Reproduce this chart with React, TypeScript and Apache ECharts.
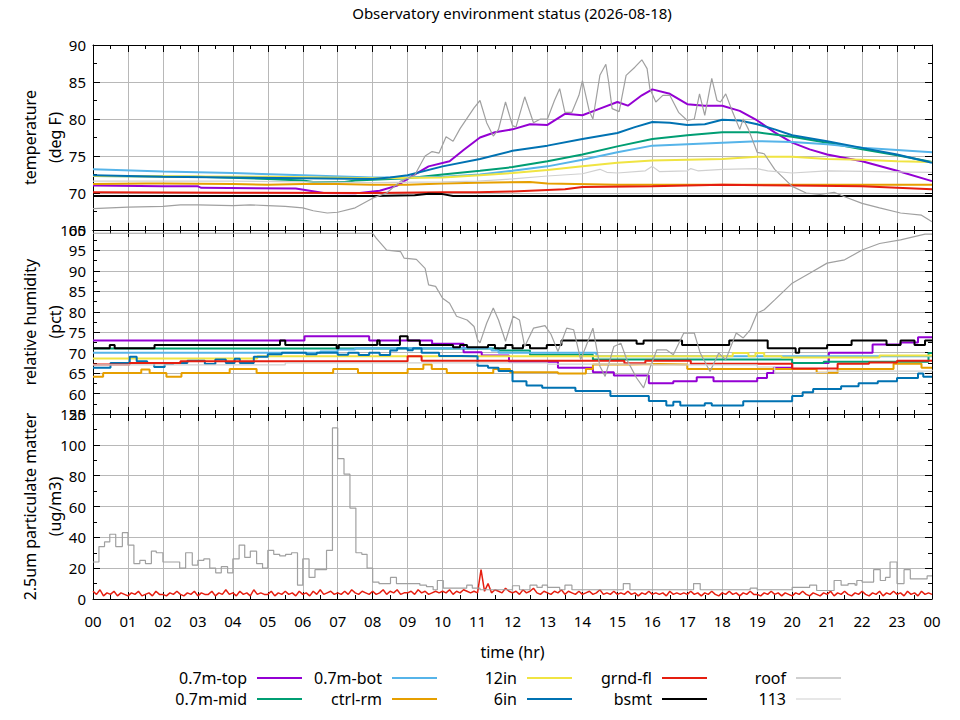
import React, { useEffect, useRef } from 'react';
import * as echarts from 'echarts';

type Pt = [number, number];

const FONT = 'Noto Sans';

// x axis tick labels (hours 0..24)
const hourLabels = [
  '00', '01', '02', '03', '04', '05', '06', '07', '08', '09', '10', '11', '12',
  '13', '14', '15', '16', '17', '18', '19', '20', '21', '22', '23', '00'
];

// sensor names and colours, in plotting order
const sensorNames = ['0.7m-top', '0.7m-mid', '0.7m-bot', 'ctrl-rm', '12in', '6in', 'grnd-fl', 'bsmt', 'roof', '113'];
const sensorColors = ['#9400d3', '#009e73', '#56b4e9', '#e69f00', '#f0e442', '#0072b2', '#e51e10', '#000000', '#a0a0a0', '#d0d0d0'];

// ---- temperature (deg F), [hour, value] ----
const tempTop: Pt[] = [
  [0, 71.0], [2, 70.9], [3, 70.9], [3.1, 70.7], [5.8, 70.6], [6.2, 70.3], [6.6, 70.0], [7.5, 69.95],
  [8.2, 70.3], [8.7, 71.0], [9.1, 72.2], [9.6, 73.6], [10.2, 74.3], [10.6, 75.8], [11.07, 77.5],
  [11.5, 78.2], [12, 78.6], [12.5, 79.3], [13, 79.2], [13.5, 80.7], [14, 80.5], [14.5, 81.4], [15, 82.3],
  [15.3, 81.8], [15.7, 83.2], [16, 84.0], [16.5, 83.4], [17, 82.0], [17.5, 81.8], [18, 81.8], [18.5, 81.1],
  [19, 79.8], [19.5, 78.2], [20, 76.8], [20.5, 75.9], [21, 75.2], [22, 74.3], [23, 73.0], [24, 71.6]
];
const tempMid: Pt[] = [
  [0, 72.3], [3, 72.2], [5, 71.9], [6, 71.7], [6.3, 71.5], [7.2, 71.5], [7.5, 71.7], [9, 72.0], [10, 72.5],
  [11.07, 73.0], [12, 73.5], [13, 74.3], [14, 75.2], [15, 76.3], [16, 77.3], [17, 77.8], [18, 78.2],
  [19, 78.2], [20, 77.6], [21, 76.8], [22, 75.9], [23, 75.1], [24, 74.2]
];
const tempBot: Pt[] = [
  [0, 73.2], [2, 72.9], [4, 72.7], [6, 72.4], [8, 72.1], [9, 72.1], [10, 72.2], [11.07, 72.5], [12, 73.0],
  [13, 73.6], [14, 74.5], [15, 75.5], [16, 76.4], [17, 76.6], [18, 76.8], [19, 77.0], [20, 76.9],
  [21, 76.6], [22, 76.1], [23, 75.8], [24, 75.5]
];
const tempCtrl: Pt[] = [
  [0, 71.2], [1.5, 71.3], [2, 71.3], [4, 71.2], [5, 71.1], [6, 71.2], [7, 71.2], [8, 71.1], [9, 71.1],
  [10, 71.3], [11, 71.4], [12.5, 71.5], [13, 71.3], [15, 71.1], [24, 71.1]
];
const temp12in: Pt[] = [
  [0, 72.3], [5, 72.2], [8, 72.0], [10, 72.1], [11.07, 72.4], [12, 72.7], [13, 73.1], [14, 73.6],
  [15, 74.1], [16, 74.4], [17, 74.5], [18, 74.6], [19, 74.9], [20, 74.9], [21, 74.6], [22, 74.5],
  [23, 74.3], [24, 74.2]
];
const temp6in: Pt[] = [
  [0, 72.4], [2, 72.2], [4, 72.1], [6, 72.0], [8, 71.9], [8.5, 72.1], [9, 72.4], [10, 73.6], [11.07, 74.6],
  [12, 75.7], [13, 76.4], [14, 77.3], [15, 78.1], [15.5, 78.9], [16, 79.6], [16.5, 79.5], [17, 79.2],
  [17.5, 79.3], [18, 79.9], [18.5, 79.8], [19, 79.3], [19.5, 78.6], [20, 77.8], [21, 77.0], [22, 76.1],
  [23, 75.2], [24, 74.1]
];
const tempGrnd: Pt[] = [
  [0, 70.1], [4, 70.05], [8, 70.0], [10, 70.1], [11, 70.1], [12, 70.2], [13.5, 70.5], [14, 70.8],
  [16, 70.9], [18, 71.1], [20, 71.0], [22, 70.9], [24, 70.5]
];
const tempBsmt: Pt[] = [
  [0, 69.6], [8, 69.6], [9.2, 69.7], [9.6, 69.9], [10, 69.85], [10.3, 69.6], [24, 69.6]
];
const tempRoof: Pt[] = [
  [0, 67.9], [0.5, 68.0], [1, 68.1], [2, 68.2], [2.5, 68.4], [3, 68.4], [4, 68.3], [4.5, 68.4], [5, 68.3],
  [5.5, 68.2], [6, 68.0], [6.3, 67.6], [6.7, 67.3], [7, 67.4], [7.5, 68.0], [8, 69.3], [8.4, 70.0],
  [8.8, 71.6], [9.2, 72.4], [9.5, 75.0], [9.7, 75.6], [9.9, 75.4], [10.1, 77.6], [10.3, 77.0], [10.5, 78.7],
  [10.9, 81.5], [11.07, 82.5], [11.26, 79.5], [11.45, 77.7], [11.6, 78.6], [11.8, 82.3], [12, 79.1],
  [12.1, 78.9], [12.35, 83.0], [12.6, 79.5], [12.8, 80.0], [13, 80.0], [13.2, 82.5], [13.35, 84.1],
  [13.5, 80.9], [13.7, 80.9], [13.9, 83.2], [14, 85.2], [14.2, 81.0], [14.3, 80.0], [14.5, 85.9],
  [14.67, 87.4], [14.75, 85.0], [14.85, 81.4], [15.05, 81.0], [15.25, 85.9], [15.5, 87.0], [15.7, 88.0],
  [15.85, 86.8], [15.93, 84.1], [16.1, 82.3], [16.3, 83.2], [16.5, 83.2], [16.75, 80.9], [17, 79.8],
  [17.2, 80.0], [17.35, 83.4], [17.5, 80.5], [17.7, 85.5], [17.85, 82.5], [17.95, 82.3], [18.1, 83.4],
  [18.3, 80.9], [18.5, 78.6], [18.6, 80.0], [18.75, 78.6], [19, 75.5], [19.2, 75.3], [19.5, 73.2],
  [20, 70.9], [20.4, 70.0], [20.8, 69.8], [21.2, 70.1], [21.5, 69.5], [22, 68.6], [22.5, 68.0],
  [23.1, 67.3], [23.7, 67.0], [24, 66.1]
];
const temp113: Pt[] = [
  [0, 71.6], [4, 71.6], [6, 71.5], [8, 71.4], [10, 71.5], [11, 71.6], [12, 71.9], [13, 72.3], [14, 72.6],
  [14.5, 73.2], [14.7, 72.8], [15, 72.7], [15.8, 73.0], [16, 73.6], [16.2, 72.9], [17, 73.0], [17.1, 73.3],
  [17.3, 73.0], [18, 73.2], [19, 73.3], [19.3, 73.0], [20, 72.7], [21, 73.0], [24, 72.8]
];

// ---- relative humidity (pct), [hour, value], held until next point ----
const rhTop: Pt[] = [
  [0, 73], [6.05, 74], [7.9, 73], [9.7, 72.2], [10.6, 70.1], [11.12, 69.3], [11.9, 67.8], [13.3, 66.3],
  [14.3, 65.2], [14.9, 64.4], [15.9, 62.5], [16.6, 63], [17.27, 64.0], [17.75, 63], [19, 63.8],
  [19.28, 65], [19.47, 66.3], [20, 67.5], [21.05, 70], [22.3, 72], [23.1, 72.5], [23.6, 73.8], [24, 73.8]
];
const rhMid: Pt[] = [
  [0, 71.0], [11.6, 70.5], [12.5, 69.5], [14.3, 68.3], [20, 67.5], [20.9, 67.8], [23.9, 69.9], [24, 69.9]
];
const rhBot: Pt[] = [
  [0, 70], [6.5, 70.3], [7, 70.8], [7.5, 71.1], [11.4, 70.5], [11.6, 70.0], [14.4, 69.1], [24, 69.1]
];
const rhCtrl: Pt[] = [
  [0, 64.1], [0.29, 65.0], [1.38, 65.9], [1.62, 65.0], [2.1, 64.1], [2.53, 65.0], [3.91, 66.0], [4.68, 65.0],
  [6.87, 66.0], [7.58, 65.0], [9.0, 66.0], [9.45, 67.1], [9.69, 66.0], [10.12, 65.0], [11.45, 66.0],
  [11.93, 65.2], [13.3, 64.9], [14.1, 66.0], [14.3, 67.1], [15.3, 67.2], [16.2, 67.1], [17.0, 66.0],
  [20.7, 65.1], [21.3, 66.0], [22.9, 67.3], [23.7, 66.3], [24, 66.3]
];
const rh12in: Pt[] = [
  [0, 68.6], [4.7, 69.1], [18.3, 69.9], [18.75, 69.1], [18.95, 69.9], [19.2, 69.1], [19.7, 68.8],
  [22.5, 69.3], [24, 69.3]
];
const rh6in: Pt[] = [
  [0, 66.3], [0.5, 67.5], [1.05, 69.0], [1.25, 67.9], [1.55, 67.5], [1.75, 66.5], [2.05, 67.2], [2.3, 67.5],
  [2.7, 68.0], [3.2, 67.2], [3.5, 68.3], [3.8, 67.5], [4.05, 68.5], [4.2, 67.5], [4.6, 69.0], [5.0, 69.6],
  [5.4, 70.0], [6.1, 69.6], [6.4, 70.0], [7.0, 69.5], [7.3, 70.0], [7.6, 69.4], [7.9, 70.0], [8.2, 69.4],
  [8.5, 70.5], [8.7, 71.1], [9.0, 70.6], [9.15, 71.1], [9.4, 70.0], [9.9, 69.2], [10.5, 69.1], [11.0, 66.8],
  [11.3, 66.3], [11.6, 65.5], [12, 63.0], [12.4, 62.0], [12.85, 61.4], [13.8, 60.6], [14.8, 59.4],
  [15.9, 58.2], [16.4, 57.1], [16.6, 58.0], [16.8, 57.1], [17.5, 57.6], [17.7, 57.1], [18.6, 58.1],
  [20.0, 59.4], [20.3, 60.3], [20.6, 61.1], [21.4, 61.8], [21.9, 62.5], [22.45, 63.0], [23.0, 63.8],
  [23.6, 64.9], [23.75, 64.1], [24, 64.1]
];
const rhGrnd: Pt[] = [
  [0, 67.1], [1.05, 67.5], [2.5, 67.9], [9.0, 69.1], [9.4, 68.0], [15.2, 67.4], [15.8, 68.0], [17.1, 67.3],
  [20.0, 66.1], [21.3, 67.3], [22.2, 67.6], [23.0, 68.0], [24, 68.0]
];
const rhBsmt: Pt[] = [
  [0, 71.1], [0.48, 71.9], [0.62, 71.1], [1.76, 71.9], [5.35, 73.0], [5.5, 71.9], [6.97, 71.1], [7.03, 71.9],
  [8.13, 73.0], [8.2, 71.9], [8.78, 74.0], [9.0, 73.0], [9.35, 71.9], [10.3, 71.3], [10.5, 71.9],
  [10.7, 71.3], [11.07, 71.3], [11.3, 71.9], [11.5, 71.1], [11.8, 71.9], [12.0, 71.1], [12.3, 71.9],
  [12.5, 71.1], [12.98, 71.9], [13.4, 73.0], [15.55, 72.2], [15.75, 73.0], [16.85, 71.9], [18.2, 73.0],
  [19.3, 71.1], [20.1, 70.0], [20.2, 71.1], [21.0, 71.9], [21.7, 73.0], [22.7, 71.9], [23.1, 73.0],
  [23.5, 71.9], [23.8, 73.0], [24, 73.0]
];
const rhRoof: Pt[] = [
  [0, 99.2], [8, 99.2], [8.1, 98], [8.4, 95.1], [8.8, 94.7], [8.9, 93.1], [9.25, 92.8], [9.5, 90.6],
  [9.6, 86.6], [9.8, 86.2], [10, 83.3], [10.2, 82.1], [10.4, 78.9], [10.7, 78], [10.9, 76.4], [11.0, 73.2],
  [11.07, 72.4], [11.26, 77.2], [11.45, 80.9], [11.6, 78], [11.8, 72.8], [12.02, 78.9], [12.2, 78],
  [12.35, 71.5], [12.6, 76], [12.93, 76.6], [13.1, 74.5], [13.3, 70.3], [13.55, 76], [13.75, 75.6],
  [13.95, 68.3], [14.1, 71.5], [14.3, 76], [14.5, 66.7], [14.65, 64.2], [14.9, 71.5], [15.1, 72.3],
  [15.27, 68.3], [15.55, 63.8], [15.75, 61.4], [15.95, 66.7], [16.13, 70.7], [16.4, 70.7], [16.6, 69.5],
  [16.9, 74.8], [17.2, 74.8], [17.37, 69.9], [17.65, 65.4], [17.9, 69.9], [18.1, 68.3], [18.4, 74.8],
  [18.6, 73.6], [18.8, 75.6], [19, 79.7], [19.2, 80.5], [19.5, 82.9], [20, 87], [20.5, 89.4], [21, 91.9],
  [21.5, 92.7], [22, 95.1], [22.5, 96.7], [23.1, 97.6], [23.8, 99], [24, 99]
];
const rh113: Pt[] = [
  [0, 67.0], [5, 67.0], [5.5, 67.5], [11, 67.5], [13, 67.2], [16, 67.0], [19, 66.5], [19.5, 65.1],
  [21, 65.5], [24, 65.8]
];

// ---- 2.5um particulate matter (ug/m3) ----
const pmRoof: Pt[] = [
  [0, 24], [0.17, 34], [0.33, 37], [0.48, 42], [0.65, 34], [0.84, 43], [1.0, 35], [1.17, 23], [1.34, 25],
  [1.5, 23], [1.67, 31], [1.81, 30], [2.0, 24], [2.48, 20], [2.65, 30], [2.84, 22], [3.0, 25], [3.17, 26],
  [3.34, 20], [3.51, 17], [3.67, 21], [3.85, 17], [4.0, 26], [4.18, 35], [4.34, 27], [4.5, 31], [4.68, 23],
  [4.85, 20], [5.0, 31.5], [5.17, 29], [5.34, 28], [5.51, 29], [5.68, 30], [5.85, 9], [6.0, 26], [6.18, 14],
  [6.35, 19], [6.68, 31.5], [6.85, 111], [7.0, 91], [7.18, 81], [7.35, 59], [7.52, 30], [7.69, 29],
  [7.84, 20], [8.0, 11], [8.18, 10], [8.51, 14], [8.68, 10], [9.35, 9], [9.54, 8], [9.73, 6], [9.85, 12],
  [10.02, 7], [10.69, 9], [10.85, 7], [11.07, 6], [12.0, 8.6], [12.2, 6], [12.5, 9], [12.7, 7.5],
  [12.85, 9], [13.0, 7.5], [13.35, 6], [13.5, 9], [13.7, 6], [15.17, 10], [15.36, 6], [17.18, 10],
  [17.37, 6], [18.8, 7], [19.0, 6], [20.0, 7.5], [20.5, 9], [20.7, 5.5], [21.2, 12], [21.4, 9], [21.6, 10],
  [21.8, 9], [21.85, 12], [22.0, 11], [22.33, 19], [22.52, 12], [22.67, 14], [22.8, 24], [23.0, 10],
  [23.2, 19], [23.38, 13], [23.86, 15], [24, 15]
];
// ground floor readings, one every 6 minutes from 00:00
const PM_SAMPLE_HR = 0.1;
const pmGrndFl = [
  5, 3, 6, 2, 4, 3, 5, 2, 4, 3,
  2, 4, 3, 5, 2, 3, 4, 2, 5, 3,
  3, 2, 4, 3, 5, 3, 2, 4, 3, 5,
  2, 4, 3, 3, 5, 2, 4, 3, 6, 3,
  4, 2, 5, 3, 4, 2, 6, 3, 4, 3,
  3, 5, 2, 4, 3, 5, 3, 4, 2, 5,
  3, 4, 2, 5, 3, 6, 3, 4, 5, 3,
  4, 3, 5, 3, 6, 4, 3, 5, 4, 3,
  5, 3, 4, 6, 3, 5, 4, 6, 3, 4,
  4, 5, 3, 6, 4, 5, 3, 4, 5, 4,
  5, 4, 6, 3, 5, 4, 6, 5, 4, 5,
  4, 19, 5, 10, 4, 6, 5, 4, 7, 5,
  4, 5, 3, 6, 4, 5, 7, 4, 3, 5,
  4, 3, 5, 4, 6, 3, 5, 4, 3, 5,
  3, 4, 5, 3, 4, 6, 3, 4, 3, 5,
  3, 4, 3, 5, 3, 4, 2, 4, 3, 5,
  3, 4, 3, 4, 2, 5, 3, 4, 3, 4,
  3, 5, 3, 4, 2, 4, 3, 5, 3, 2,
  4, 3, 5, 3, 4, 2, 4, 3, 5, 3,
  3, 2, 4, 3, 5, 3, 4, 2, 4, 3,
  2, 4, 3, 5, 3, 2, 4, 3, 2, 4,
  3, 5, 2, 4, 3, 5, 3, 2, 4, 3,
  5, 3, 2, 4, 3, 5, 2, 4, 3, 5,
  3, 4, 2, 5, 3, 4, 2, 5, 3, 4,
  3
];

const tempSeries = [tempTop, tempMid, tempBot, tempCtrl, temp12in, temp6in, tempGrnd, tempBsmt, tempRoof, temp113];
const rhSeries = [rhTop, rhMid, rhBot, rhCtrl, rh12in, rh6in, rhGrnd, rhBsmt, rhRoof, rh113];

const App: React.FC = () => {
  const chartRef = useRef<HTMLDivElement>(null);

  useEffect(() => {
    if (!chartRef.current) return;
    const chart = echarts.init(chartRef.current, undefined, { renderer: 'svg' });

    const grids = [
      { left: 93, width: 839, top: 45, height: 185 },
      { left: 93, width: 839, top: 230, height: 184 },
      { left: 93, width: 839, top: 414, height: 185 },
      // carries only the hour labels and the axis title under the bottom panel
      { left: 93, width: 839, top: 414, height: 185 }
    ];

    const tickStyle = { color: '#000', width: 1 };
    const gridLine = { show: true, lineStyle: { color: '#b8b8b8', width: 1 } };

    const xAxes: any[] = [];
    [0, 1, 2].forEach(i => {
      xAxes.push({
        gridIndex: i, type: 'value', min: 0, max: 24, interval: 1, position: 'bottom',
        axisLine: { show: true, onZero: false, lineStyle: tickStyle },
        axisTick: { show: true, inside: true, length: 7, lineStyle: tickStyle },
        minorTick: { show: true, splitNumber: 2, length: 4, lineStyle: tickStyle },
        axisLabel: { show: false },
        splitLine: gridLine
      });
    });
    [0, 1, 2].forEach(i => {
      xAxes.push({
        gridIndex: i, type: 'value', min: 0, max: 24, interval: 1, position: 'top',
        axisLine: { show: true, onZero: false, lineStyle: tickStyle },
        axisTick: { show: true, inside: true, length: 7, lineStyle: tickStyle },
        minorTick: { show: true, splitNumber: 2, length: 4, lineStyle: tickStyle },
        axisLabel: { show: false },
        splitLine: { show: false }
      });
    });
    xAxes.push({
      gridIndex: 3, type: 'value', min: 0, max: 24, interval: 1, position: 'bottom',
      axisLine: { show: false, onZero: false },
      axisTick: { show: false },
      axisLabel: {
        show: true, margin: 14, color: '#000', fontSize: 15, fontFamily: FONT,
        formatter: (v: number) => hourLabels[Math.round(v)]
      },
      splitLine: { show: false },
      name: 'time (hr)', nameLocation: 'middle', nameGap: 45,
      nameTextStyle: { color: '#000', fontSize: 16, fontFamily: FONT }
    });

    const yDefs = [
      { min: 65, max: 90, interval: 5, name: 'temperature\n(deg F)' },
      { min: 55, max: 100, interval: 5, name: 'relative humidity\n(pct)' },
      { min: 0, max: 120, interval: 20, name: '2.5um particulate matter\n(ug/m3)' }
    ];
    const yAxes: any[] = [];
    yDefs.forEach((d, i) => {
      yAxes.push({
        gridIndex: i, type: 'value', min: d.min, max: d.max, interval: d.interval, position: 'left',
        axisLine: { show: true, onZero: false, lineStyle: tickStyle },
        axisTick: { show: true, inside: true, length: 7, lineStyle: tickStyle },
        minorTick: { show: true, splitNumber: 2, length: 4, lineStyle: tickStyle },
        axisLabel: {
          margin: 7, color: '#000', fontSize: 15, fontFamily: FONT,
          verticalAlignMinLabel: 'middle', verticalAlignMaxLabel: 'middle'
        },
        splitLine: gridLine,
        name: d.name, nameLocation: 'middle', nameRotate: 90, nameGap: 26, nameMoveOverlap: false,
        nameTextStyle: { color: '#000', fontSize: 16, lineHeight: 25, fontFamily: FONT }
      });
    });
    yDefs.forEach((d, i) => {
      yAxes.push({
        gridIndex: i, type: 'value', min: d.min, max: d.max, interval: d.interval, position: 'right',
        axisLine: { show: true, onZero: false, lineStyle: tickStyle },
        axisTick: { show: true, inside: true, length: 7, lineStyle: tickStyle },
        minorTick: { show: true, splitNumber: 2, length: 4, lineStyle: tickStyle },
        axisLabel: { show: false },
        splitLine: { show: false }
      });
    });
    yAxes.push({ gridIndex: 3, type: 'value', min: 0, max: 1, show: false });

    const lineWidth = (idx: number) => (idx >= 8 ? 1.2 : 2);

    const series: any[] = [];
    tempSeries.forEach((data, idx) => {
      series.push({
        name: sensorNames[idx], type: 'line', xAxisIndex: 0, yAxisIndex: 0, data,
        showSymbol: false, symbol: 'none',
        lineStyle: { color: sensorColors[idx], width: lineWidth(idx) }
      });
    });
    rhSeries.forEach((data, idx) => {
      series.push({
        name: sensorNames[idx], type: 'line', xAxisIndex: 1, yAxisIndex: 1, data,
        step: idx === 8 ? undefined : 'end', showSymbol: false, symbol: 'none',
        lineStyle: { color: sensorColors[idx], width: lineWidth(idx) }
      });
    });
    series.push({
      name: 'grnd-fl', type: 'line', xAxisIndex: 2, yAxisIndex: 2,
      data: pmGrndFl.map((v, k) => [k * PM_SAMPLE_HR, v]),
      showSymbol: false, symbol: 'none',
      lineStyle: { color: sensorColors[6], width: 1.5 }
    });
    series.push({
      name: 'roof', type: 'line', xAxisIndex: 2, yAxisIndex: 2, data: pmRoof,
      step: 'end', showSymbol: false, symbol: 'none',
      lineStyle: { color: sensorColors[8], width: 1.2 }
    });

    // gnuplot-style key: text right-aligned, sample line to its right
    const keyTextRight = [247, 382, 517, 652, 786];
    const keyRows = [678, 699];
    const graphic: any[] = [
      {
        type: 'text', x: 512, y: 13,
        style: {
          text: 'Observatory environment status (2026-08-18)', fill: '#000',
          font: `15px "${FONT}"`, textAlign: 'center', textVerticalAlign: 'middle'
        }
      }
    ];
    sensorNames.forEach((nm, idx) => {
      const col = Math.floor(idx / 2);
      const row = idx % 2;
      const tx = keyTextRight[col];
      const ty = keyRows[row];
      graphic.push({
        type: 'text', x: tx, y: ty,
        style: { text: nm, fill: '#000', font: `16px "${FONT}"`, textAlign: 'right', textVerticalAlign: 'middle' }
      });
      graphic.push({
        type: 'line', shape: { x1: tx + 10, y1: ty, x2: tx + 55, y2: ty },
        style: { stroke: sensorColors[idx], lineWidth: idx >= 8 ? 1.2 : 2 }
      });
    });

    chart.setOption({
      animation: false,
      backgroundColor: '#fff',
      grid: grids,
      xAxis: xAxes,
      yAxis: yAxes,
      series,
      graphic
    });

    return () => {
      chart.dispose();
    };
  }, []);

  return (
    <div
      ref={chartRef}
      style={{ position: 'absolute', left: 0, top: 0, width: 960, height: 720 }}
    />
  );
};

export default App;
